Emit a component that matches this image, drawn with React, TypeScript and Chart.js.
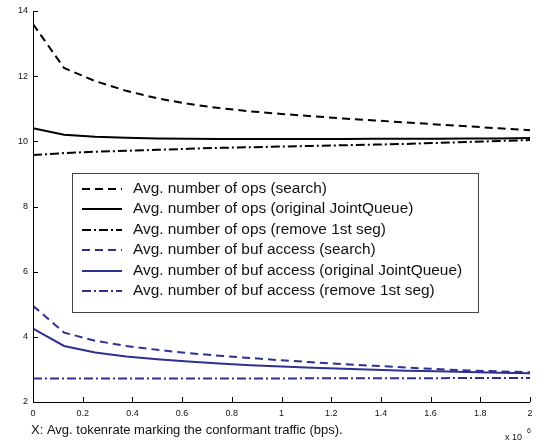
import React, { useEffect, useRef } from "react";
import { Chart, registerables } from "chart.js";

Chart.register(...registerables);

const xValues = [0, 0.125, 0.25, 0.375, 0.5, 0.625, 0.75, 0.875, 1.0, 1.125, 1.25, 1.375, 1.5, 1.625, 1.75, 1.875, 2.0];

const opsSearch = [13.6, 12.25, 11.85, 11.55, 11.32, 11.15, 11.02, 10.92, 10.84, 10.77, 10.7, 10.64, 10.58, 10.52, 10.46, 10.4, 10.34];
const opsOriginal = [10.4, 10.2, 10.14, 10.11, 10.09, 10.08, 10.07, 10.07, 10.07, 10.07, 10.07, 10.08, 10.08, 10.08, 10.09, 10.09, 10.1];
const opsRemove = [9.58, 9.64, 9.68, 9.71, 9.74, 9.77, 9.8, 9.82, 9.84, 9.86, 9.88, 9.9, 9.92, 9.95, 9.98, 10.01, 10.04];
const bufSearch = [4.95, 4.13, 3.88, 3.72, 3.6, 3.5, 3.42, 3.35, 3.28, 3.22, 3.16, 3.11, 3.06, 3.01, 2.97, 2.94, 2.91];
const bufOriginal = [4.25, 3.72, 3.52, 3.4, 3.31, 3.24, 3.18, 3.13, 3.09, 3.05, 3.02, 2.99, 2.96, 2.94, 2.92, 2.9, 2.88];
const bufRemove = [2.72, 2.72, 2.72, 2.72, 2.72, 2.72, 2.72, 2.72, 2.72, 2.73, 2.73, 2.73, 2.73, 2.73, 2.74, 2.74, 2.74];

const seriesLabels = [
  "Avg. number of ops (search)",
  "Avg. number of ops (original JointQueue)",
  "Avg. number of ops (remove 1st seg)",
  "Avg. number of buf access (search)",
  "Avg. number of buf access (original JointQueue)",
  "Avg. number of buf access (remove 1st seg)",
];

const xTicks = [0, 0.2, 0.4, 0.6, 0.8, 1, 1.2, 1.4, 1.6, 1.8, 2];
const yTicks = [2, 4, 6, 8, 10, 12, 14];

const xTitle = "X: Avg. tokenrate marking the conformant traffic (bps).";
const xExponent = "6";

const BLACK = "#000000";
const BLUE = "#2e3192";
const DASH = [8, 5];
const DASHDOT = [9, 3, 2, 3];
const FONT = "'Liberation Sans', Arial, sans-serif";

const overlayPlugin = {
  id: "overlay",
  afterDraw(chart: any) {
    const ctx = chart.ctx;
    const ca = chart.chartArea;
    const xs = chart.scales.x;
    const ys = chart.scales.y;
    ctx.save();
    // axes
    ctx.strokeStyle = "#000";
    ctx.lineWidth = 1;
    ctx.setLineDash([]);
    ctx.beginPath();
    ctx.moveTo(ca.left + 0.5, ca.top);
    ctx.lineTo(ca.left + 0.5, ca.bottom + 0.5);
    ctx.lineTo(ca.right, ca.bottom + 0.5);
    ctx.stroke();
    // inward ticks
    ctx.beginPath();
    xTicks.forEach((v) => {
      const px = Math.round(xs.getPixelForValue(v)) + 0.5;
      ctx.moveTo(px, ca.bottom);
      ctx.lineTo(px, ca.bottom - 5);
    });
    yTicks.forEach((v) => {
      const py = Math.round(ys.getPixelForValue(v)) + 0.5;
      ctx.moveTo(ca.left, py);
      ctx.lineTo(ca.left + 5, py);
    });
    ctx.stroke();

    // title
    ctx.fillStyle = "#111";
    ctx.font = `13px ${FONT}`;
    ctx.textAlign = "left";
    ctx.textBaseline = "middle";
    ctx.fillText(xTitle, 31, 430);
    ctx.font = `9px ${FONT}`;
    ctx.fillText("x 10", 505, 438);
    ctx.font = `7px ${FONT}`;
    ctx.fillText(xExponent, 527, 431);

    // legend
    const lx = 72, ly = 173, lw = 406, lh = 139;
    ctx.fillStyle = "#fff";
    ctx.fillRect(lx, ly, lw, lh);
    ctx.strokeStyle = "#444";
    ctx.lineWidth = 1;
    ctx.strokeRect(lx + 0.5, ly + 0.5, lw, lh);
    ctx.font = `15.4px ${FONT}`;
    chart.data.datasets.forEach((ds: any, i: number) => {
      const y = 188.5 + i * 20.5;
      ctx.strokeStyle = ds.borderColor;
      ctx.lineWidth = 2;
      ctx.setLineDash(ds.borderDash || []);
      ctx.beginPath();
      ctx.moveTo(82, Math.round(y));
      ctx.lineTo(122, Math.round(y));
      ctx.stroke();
      ctx.setLineDash([]);
      ctx.fillStyle = "#111";
      ctx.fillText(ds.label, 133, y);
    });
    ctx.restore();
  },
};

export default function App() {
  const ref = useRef<HTMLCanvasElement | null>(null);
  useEffect(() => {
    document.body.style.margin = "0";
    const canvas = ref.current;
    if (!canvas) return;
    const mk = (label: string, data: number[], color: string, dash: number[]) => ({
      label,
      data: xValues.map((x, i) => ({ x, y: data[i] })),
      borderColor: color,
      backgroundColor: color,
      borderDash: dash,
      borderWidth: 2,
      pointRadius: 0,
      tension: 0,
      fill: false,
    });
    const chart = new Chart(canvas, {
      type: "line",
      data: {
        datasets: [
          mk(seriesLabels[0], opsSearch, BLACK, DASH),
          mk(seriesLabels[1], opsOriginal, BLACK, []),
          mk(seriesLabels[2], opsRemove, BLACK, DASHDOT),
          mk(seriesLabels[3], bufSearch, BLUE, DASH),
          mk(seriesLabels[4], bufOriginal, BLUE, []),
          mk(seriesLabels[5], bufRemove, BLUE, DASHDOT),
        ],
      },
      options: {
        animation: false,
        responsive: false,
        maintainAspectRatio: false,
        layout: { padding: { top: 11, right: 10, left: 0, bottom: 0 } },
        plugins: { legend: { display: false }, tooltip: { enabled: false } },
        scales: {
          x: {
            type: "linear",
            min: 0,
            max: 2,
            grid: { display: false, drawTicks: false },
            border: { display: false },
            afterBuildTicks: (s: any) => {
              s.ticks = xTicks.map((v) => ({ value: v }));
            },
            afterFit: (s: any) => {
              s.height = 43;
            },
            ticks: {
              color: "#111",
              font: { size: 9, family: FONT },
              padding: 6,
              maxRotation: 0,
              autoSkip: false,
              callback: (v: any) => String(v),
            },
          },
          y: {
            type: "linear",
            min: 2,
            max: 14,
            grid: { display: false, drawTicks: false },
            border: { display: false },
            afterBuildTicks: (s: any) => {
              s.ticks = yTicks.map((v) => ({ value: v }));
            },
            afterFit: (s: any) => {
              s.width = 33;
            },
            ticks: {
              color: "#111",
              font: { size: 9, family: FONT },
              padding: 5,
              callback: (v: any) => String(v),
            },
          },
        },
      },
      plugins: [overlayPlugin],
    } as any);
    return () => chart.destroy();
  }, []);
  return (
    <div style={{ width: 540, height: 445 }}>
      <canvas ref={ref} width={540} height={445} style={{ display: "block" }} />
    </div>
  );
}
